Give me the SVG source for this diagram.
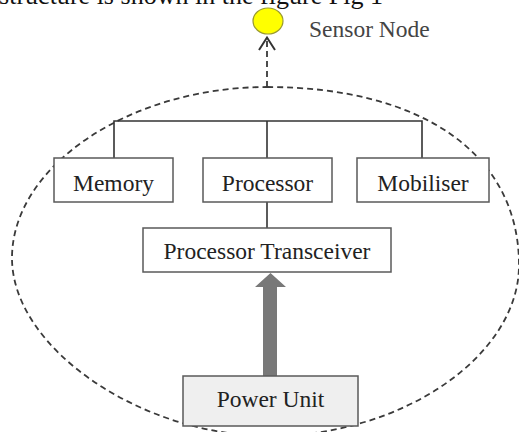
<svg xmlns="http://www.w3.org/2000/svg" width="519" height="432" viewBox="0 0 519 432">
<style>
.box{fill:#fff;stroke:#5a5a5a;stroke-width:1.5}
.lbl{font-family:"Liberation Serif","Times New Roman",serif;font-size:23.5px;fill:#222;text-anchor:middle}
.wire{stroke:#333;stroke-width:1.6;fill:none}
.dash{stroke:#3a3a3a;stroke-width:1.8;fill:none;stroke-dasharray:6 4}
</style>
<rect width="519" height="432" fill="#fff"/>
<text x="-1" y="4" font-family="'Liberation Serif','Times New Roman',serif" font-size="26" fill="#111" textLength="384">structure is shown in the figure Fig 1</text>
<g id="boundary">
<path class="dash" d="M267,87 C423,87 519,155 519,265 C519,356 402,436 270,436 C141,436 12,348 12,258 C12,166 130,87 267,87 Z"/>
</g>
<g id="connectors">
<path class="wire" d="M114,159 V121 H422 V159 M267,121 V159 M267,202 V228"/>
<path class="dash" d="M267,87 V39"/>
<polyline points="259,50 267,37.5 275,50" fill="none" stroke="#333" stroke-width="2"/>
<polygon points="270.5,273 286,287 277,287 277,376 263,376 263,287 255,287" fill="#787878"/>
</g>
<g id="sensor-node">
<ellipse cx="268" cy="21" rx="15" ry="13" fill="#ffff00" stroke="#9a9a30" stroke-width="1.2"/>
<text x="309" y="37" font-family="'Liberation Serif','Times New Roman',serif" font-size="23.5" fill="#444">Sensor Node</text>
</g>
<g id="memory">
<rect class="box" x="54" y="158" width="119" height="44"/>
<text class="lbl" x="113.5" y="191">Memory</text>
</g>
<g id="processor">
<rect class="box" x="203" y="158" width="129" height="44"/>
<text class="lbl" x="267.5" y="191">Processor</text>
</g>
<g id="mobiliser">
<rect class="box" x="357" y="158" width="132" height="44"/>
<text class="lbl" x="423" y="191">Mobiliser</text>
</g>
<g id="transceiver">
<rect class="box" x="143" y="228" width="248" height="44"/>
<text class="lbl" x="267" y="259">Processor Transceiver</text>
</g>
<g id="power-unit">
<rect class="box" x="183" y="376" width="175" height="50" style="fill:#efefef"/>
<text class="lbl" x="270.5" y="407">Power Unit</text>
</g>
</svg>
